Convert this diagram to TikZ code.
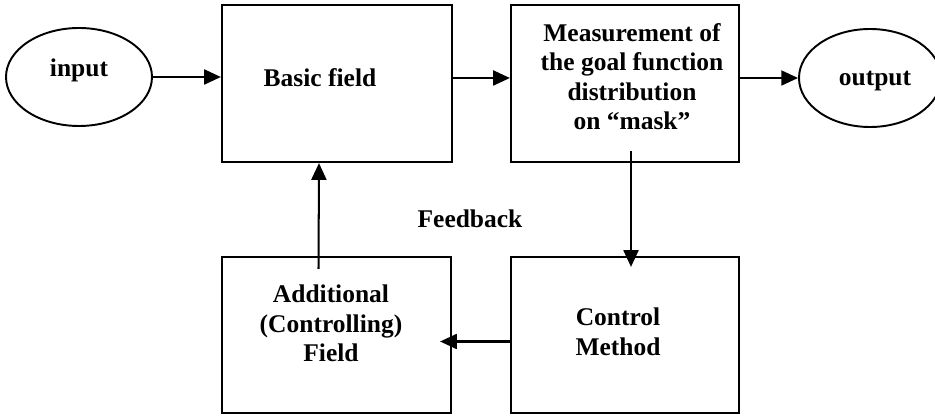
\documentclass[tikz,border=0pt]{standalone}
\usepackage{fontspec}
\setmainfont{Liberation Serif}
\usepackage{tikz}
\usetikzlibrary{arrows.meta,shapes.geometric}

\begin{document}
\begin{tikzpicture}[
  blk/.style={draw, line width=1.25pt, rectangle, inner sep=0pt},
  oval/.style={draw, line width=1.1pt, ellipse, inner sep=0pt},
  txt/.style={font=\fontsize{14.5}{16.8}\selectfont\bfseries, align=center, inner sep=0pt},
  arr/.style={line width=1.15pt, -{Triangle[length=9.5pt,width=8.5pt]}}
]

\useasboundingbox (0,0) rectangle (18.7,-8.32);

% ovals
\node[oval, minimum width=2.92cm, minimum height=1.96cm] (in) at (1.58,-1.54) {};
\node[oval, minimum width=2.84cm, minimum height=1.96cm] (out) at (17.4,-1.56) {};

% boxes
\node[blk, minimum width=4.6cm, minimum height=3.14cm] (basic) at (6.74,-1.67) {};
\node[blk, minimum width=4.56cm, minimum height=3.14cm] (meas) at (12.5,-1.67) {};
\node[blk, minimum width=4.58cm, minimum height=3.12cm] (add) at (6.73,-6.7) {};
\node[blk, minimum width=4.56cm, minimum height=3.12cm] (ctrl) at (12.5,-6.7) {};

% texts
\node[txt, anchor=base] (tin) at (1.58,-1.54) {input};
\node[txt, anchor=base] (tout) at (17.5,-1.72) {output};
\node[txt, anchor=base] (tbasic) at (6.40,-1.74) {Basic field};
\node[txt] (tmeas) at (12.64,-1.53) {Measurement of\\the goal function\\distribution\\on “mask”};
\node[txt] (tadd) at (6.62,-6.47) {Additional\\(Controlling)\\Field};
\node[txt] (tctrl) at (12.36,-6.64) {Control\\Method};
\node[txt, anchor=base] (tfb) at (9.40,-4.56) {Feedback};

% connectors
\draw[arr] (in.east) -- (in.east -| basic.west);
\draw[arr] (basic.east |- out.west) -- (meas.west |- out.west);
\draw[arr] (meas.east |- out.west) -- (out.west);
\draw[arr] ([xshift=0.12cm,yshift=0.24cm]meas.south) -- ([xshift=0.12cm,yshift=-0.22cm]ctrl.north);
\draw[arr] ([yshift=-0.13cm]ctrl.west) -- ([xshift=-0.24cm,yshift=-0.13cm]add.east);
\draw[arr] ([xshift=-0.36cm,yshift=-0.26cm]add.north) -- ([xshift=-0.36cm]basic.south);

%\draw[red] (0,0) grid (18,-8);

\end{tikzpicture}
\end{document}
